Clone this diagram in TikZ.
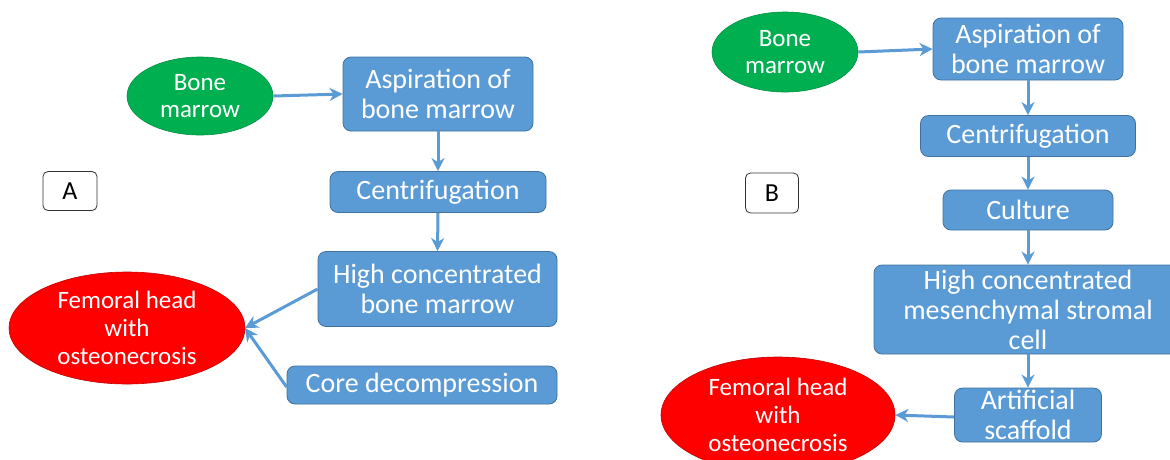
\documentclass[tikz,border=0pt]{standalone}
\usepackage{fontspec}
\setmainfont{Carlito}
\usetikzlibrary{shapes.geometric,arrows.meta}
\definecolor{boxblue}{HTML}{5B9BD5}
\definecolor{boxedge}{HTML}{41719C}
\definecolor{gfill}{HTML}{00B050}
\definecolor{rfill}{HTML}{FF0000}
\tikzset{
  bluebox/.style={rectangle, rounded corners=8pt, fill=boxblue, draw=boxedge, line width=0.8pt, text=white, align=center, inner sep=0pt, font=\fontsize{28}{30}\selectfont},
  greenell/.style={ellipse, fill=gfill, draw=gfill!80!black, line width=0.6pt, text=white, align=center, inner sep=0pt, font=\fontsize{25}{27}\selectfont},
  redell/.style={ellipse, fill=rfill, draw=rfill!75!black, line width=0.6pt, text=white, align=center, inner sep=0pt, font=\fontsize{25}{28}\selectfont},
  labelbox/.style={rectangle, rounded corners=5pt, draw=black!80, line width=0.8pt, fill=white, inner sep=0pt, font=\fontsize{26}{28}\selectfont},
  flow/.style={draw=boxblue, line width=3pt, -{Stealth[length=13pt,width=13pt,inset=4pt]}}
}
\begin{document}
\begin{tikzpicture}[x=1pt,y=-1pt]
\useasboundingbox (0,0) rectangle (1170,459);
% Panel A
\node[greenell, minimum width=146pt, minimum height=78pt] (boneA) at (200,96) {Bone\\marrow};
\node[bluebox, minimum width=190pt, minimum height=74pt] (aspA) at (438,94) {Aspiration of\\bone marrow};
\node[bluebox, minimum width=216pt, minimum height=41pt] (cenA) at (438,192) {Centrifugation};
\node[bluebox, minimum width=239pt, minimum height=75pt] (highA) at (437.5,289) {High concentrated\\bone marrow};
\node[redell, minimum width=236pt, minimum height=112pt] (femA) at (127,328) {Femoral head\\with\\osteonecrosis};
\node[bluebox, minimum width=270pt, minimum height=38pt] (coreA) at (422,385) {Core decompression};
\node[labelbox, minimum width=54pt, minimum height=39pt] (labA) at (70,191) {A};
\coordinate (femAin) at (245,328);
\draw[flow] (boneA.east) -- (aspA.west);
\draw[flow] (aspA.south) -- (cenA.north);
\draw[flow] (cenA.south) -- (highA.north);
\draw[flow] (highA.west) -- (femAin);
\draw[flow] ([yshift=-2pt]coreA.west) -- (femAin);
% Panel B
\node[greenell, minimum width=146pt, minimum height=80pt] (boneB) at (785,52) {Bone\\marrow};
\node[bluebox, minimum width=190pt, minimum height=62pt] (aspB) at (1028,49) {Aspiration of\\bone marrow};
\node[bluebox, minimum width=215pt, minimum height=41pt] (cenB) at (1028,136) {Centrifugation};
\node[bluebox, minimum width=170pt, minimum height=40pt] (culB) at (1028,210) {Culture};
\node[bluebox, minimum width=308pt, minimum height=89pt] (highB) at (1028,309.5) {High concentrated\\mesenchymal stromal\\cell};
\node[bluebox, minimum width=147pt, minimum height=54pt] (scafB) at (1028,415) {Artificial\\scaffold};
\node[redell, minimum width=234pt, minimum height=116pt] (femB) at (778,415) {Femoral head\\with\\osteonecrosis};
\node[labelbox, minimum width=53pt, minimum height=40pt] (labB) at (772,193) {B};
\draw[flow] (boneB.east) -- (aspB.west);
\draw[flow] (aspB.south) -- (cenB.north);
\draw[flow] (cenB.south) -- (culB.north);
\draw[flow] (culB.south) -- (highB.north);
\draw[flow] (highB.south) -- (scafB.north);
\draw[flow] ([yshift=-2pt]scafB.west) -- (femB.east);
\end{tikzpicture}
\end{document}
